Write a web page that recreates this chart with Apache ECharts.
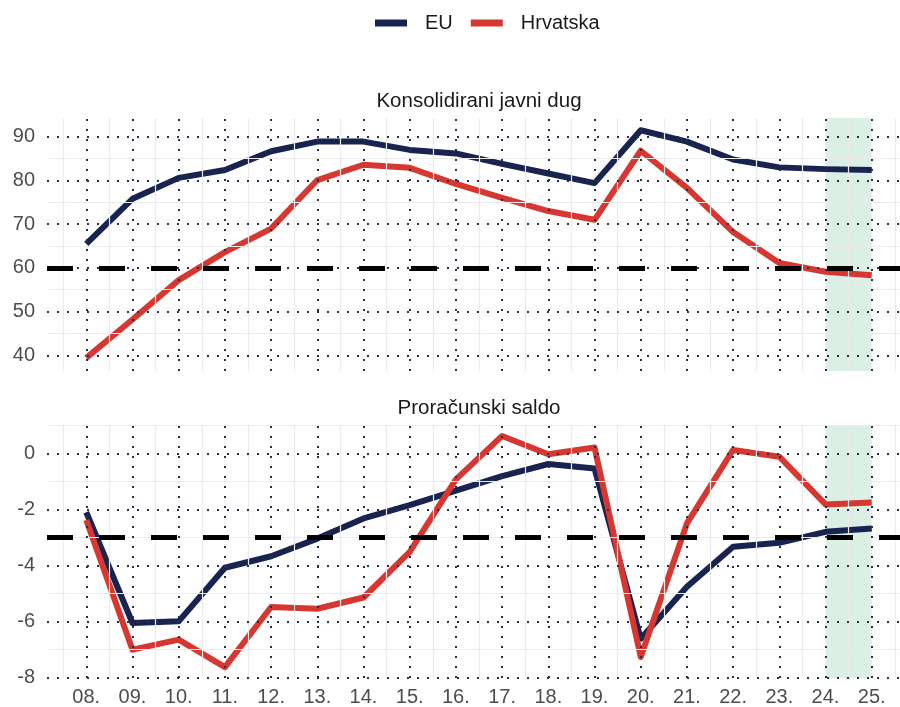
<!DOCTYPE html>
<html lang="hr">
<head>
    <meta charset="UTF-8">
    <title>Dug i saldo</title>
    <style>
        body{margin:0;background:#fff;}
    </style>
</head>
<body>
<div class="main" style="width: 900px;height:707px;"></div>
</body>
<script src="https://cdn.jsdelivr.net/npm/echarts@6/dist/echarts.min.js"></script>
<script>
    // godine i oznake na osi x
    var years = [8, 9, 10, 11, 12, 13, 14, 15, 16, 17, 18, 19, 20, 21, 22, 23, 24, 25];
    var xLabels = ['08.', '09.', '10.', '11.', '12.', '13.', '14.', '15.', '16.', '17.', '18.', '19.', '20.', '21.', '22.', '23.', '24.', '25.'];

    // konsolidirani javni dug (% BDP-a)
    var dugEU = [65.5, 75.8, 80.6, 82.4, 86.7, 88.9, 88.9, 87.0, 86.2, 83.8, 81.6, 79.4, 91.5, 88.9, 84.8, 83.0, 82.6, 82.4];
    var dugHR = [39.4, 48.2, 57.2, 63.6, 69.0, 80.1, 83.6, 82.9, 79.2, 76.0, 73.0, 71.0, 86.8, 78.3, 68.2, 61.1, 59.1, 58.3];

    // proracunski saldo (% BDP-a)
    var saldoEU = [-2.1, -6.05, -5.99, -4.08, -3.67, -3.04, -2.32, -1.85, -1.33, -0.81, -0.38, -0.54, -6.61, -4.76, -3.33, -3.19, -2.8, -2.68];
    var saldoHR = [-2.38, -7.0, -6.64, -7.62, -5.48, -5.54, -5.14, -3.51, -0.93, 0.62, -0.03, 0.21, -7.26, -2.5, 0.12, -0.12, -1.82, -1.75];

    // oznake osi y i granice (Maastricht)
    var dugTicks = [40, 50, 60, 70, 80, 90];
    var saldoTicks = [-8, -6, -4, -2, 0];
    var dugMinor = [45, 55, 65, 75, 85];
    var saldoMinor = [-7, -5, -3, -1, 1];
    var dugLimit = 60;
    var saldoLimit = -3;
    var projekcija = [24, 25];

    var navy = '#19234f';
    var red = '#d63731';
    var dotColor = '#243050';

    var main = document.getElementsByClassName('main')[0];
    var myChart = echarts.init(main);

    function pairs(vals) {
        return years.map(function (y, i) { return [y, vals[i]]; });
    }

    // linije mreze: tockaste na glavnim oznakama, svijetlo sive izmedu
    function gridLines(yMajor, yMinor) {
        var out = [];
        years.forEach(function (y) {
            out.push({xAxis: y - 0.5, lineStyle: {color: '#ebebeb', width: 1.2, type: 'solid'}});
        });
        out.push({xAxis: 25.5, lineStyle: {color: '#ebebeb', width: 1.2, type: 'solid'}});
        yMinor.forEach(function (v) {
            out.push({yAxis: v, lineStyle: {color: '#ebebeb', width: 1.2, type: 'solid'}});
        });
        years.forEach(function (y) {
            out.push({xAxis: y, lineStyle: {color: dotColor, width: 2, type: [2, 8]}});
        });
        yMajor.forEach(function (v) {
            out.push({yAxis: v, lineStyle: {color: dotColor, width: 2, type: [2, 8]}});
        });
        return out;
    }

    function helperSeries(idx, yMajor, yMinor, limit) {
        return [
            {
                name: 'grid' + idx, type: 'line', xAxisIndex: idx, yAxisIndex: idx, data: [], z: 1,
                silent: true,
                markLine: {silent: true, symbol: ['none', 'none'], label: {show: false},
                    animation: false, data: gridLines(yMajor, yMinor)}
            },
            {
                name: 'limit' + idx, type: 'line', xAxisIndex: idx, yAxisIndex: idx, data: [], z: 2,
                silent: true,
                markLine: {silent: true, symbol: ['none', 'none'], label: {show: false}, animation: false,
                    lineStyle: {color: '#000', width: 5, type: [26, 26]},
                    data: [{yAxis: limit}]}
            },
            {
                name: 'shade' + idx, type: 'line', xAxisIndex: idx, yAxisIndex: idx, data: [], z: 6,
                silent: true,
                markArea: {silent: true, animation: false,
                    itemStyle: {color: 'rgba(70,170,110,0.19)'},
                    data: [[{xAxis: projekcija[0]}, {xAxis: projekcija[1]}]]}
            }
        ];
    }

    function dataSeries(name, idx, vals, color) {
        return {
            name: name, type: 'line', xAxisIndex: idx, yAxisIndex: idx,
            data: pairs(vals), z: 4, showSymbol: false, symbol: 'none',
            lineStyle: {color: color, width: 6, cap: 'butt', join: 'round'},
            itemStyle: {color: color},
            animation: false
        };
    }

    var labelStyle = {color: '#4d4d4d', fontSize: 20, fontFamily: 'Liberation Sans'};

    function xAxisCfg(idx, showLabels) {
        return {
            type: 'value', gridIndex: idx, min: 7.15, max: 25.85,
            axisLine: {show: false}, axisTick: {show: false}, splitLine: {show: false},
            axisLabel: {
                show: showLabels, margin: 9, customValues: years,
                color: labelStyle.color, fontSize: labelStyle.fontSize, fontFamily: labelStyle.fontFamily,
                formatter: function (v) { return xLabels[years.indexOf(v)]; }
            }
        };
    }

    function yAxisCfg(idx, min, max, ticks) {
        return {
            type: 'value', gridIndex: idx, min: min, max: max,
            axisLine: {show: false}, axisTick: {show: false}, splitLine: {show: false},
            axisLabel: {
                margin: 12, customValues: ticks,
                color: labelStyle.color, fontSize: labelStyle.fontSize, fontFamily: labelStyle.fontFamily
            }
        };
    }

    var option = {
        backgroundColor: '#fff',
        animation: false,
        title: [
            {text: 'Konsolidirani javni dug', left: 474, top: 86, textAlign: 'center',
                textStyle: {fontSize: 20.5, fontWeight: 'normal', color: '#1a1a1a', fontFamily: 'Liberation Sans'}},
            {text: 'Proračunski saldo', left: 474, top: 393, textAlign: 'center',
                textStyle: {fontSize: 20.5, fontWeight: 'normal', color: '#1a1a1a', fontFamily: 'Liberation Sans'}}
        ],
        legend: {
            data: ['EU', 'Hrvatska'],
            left: 370, top: 8,
            icon: 'rect', itemWidth: 32, itemHeight: 7, itemGap: 18,
            textStyle: {fontSize: 20, color: '#1a1a1a', fontFamily: 'Liberation Sans', padding: [0, 0, 0, 13]}
        },
        grid: [
            {left: 47, top: 118, width: 864, height: 253, outerBoundsMode: 'none', containLabel: false},
            {left: 47, top: 425, width: 864, height: 253, outerBoundsMode: 'none', containLabel: false}
        ],
        xAxis: [xAxisCfg(0, false), xAxisCfg(1, true)],
        yAxis: [yAxisCfg(0, 36.4, 94.3, dugTicks), yAxisCfg(1, -8.01, 1.01, saldoTicks)],
        series: []
            .concat(helperSeries(0, dugTicks, dugMinor, dugLimit))
            .concat(helperSeries(1, saldoTicks, saldoMinor, saldoLimit))
            .concat([
                dataSeries('EU', 0, dugEU, navy),
                dataSeries('Hrvatska', 0, dugHR, red),
                dataSeries('EU', 1, saldoEU, navy),
                dataSeries('Hrvatska', 1, saldoHR, red)
            ])
    };

    myChart.setOption(option);
</script>
</html>
